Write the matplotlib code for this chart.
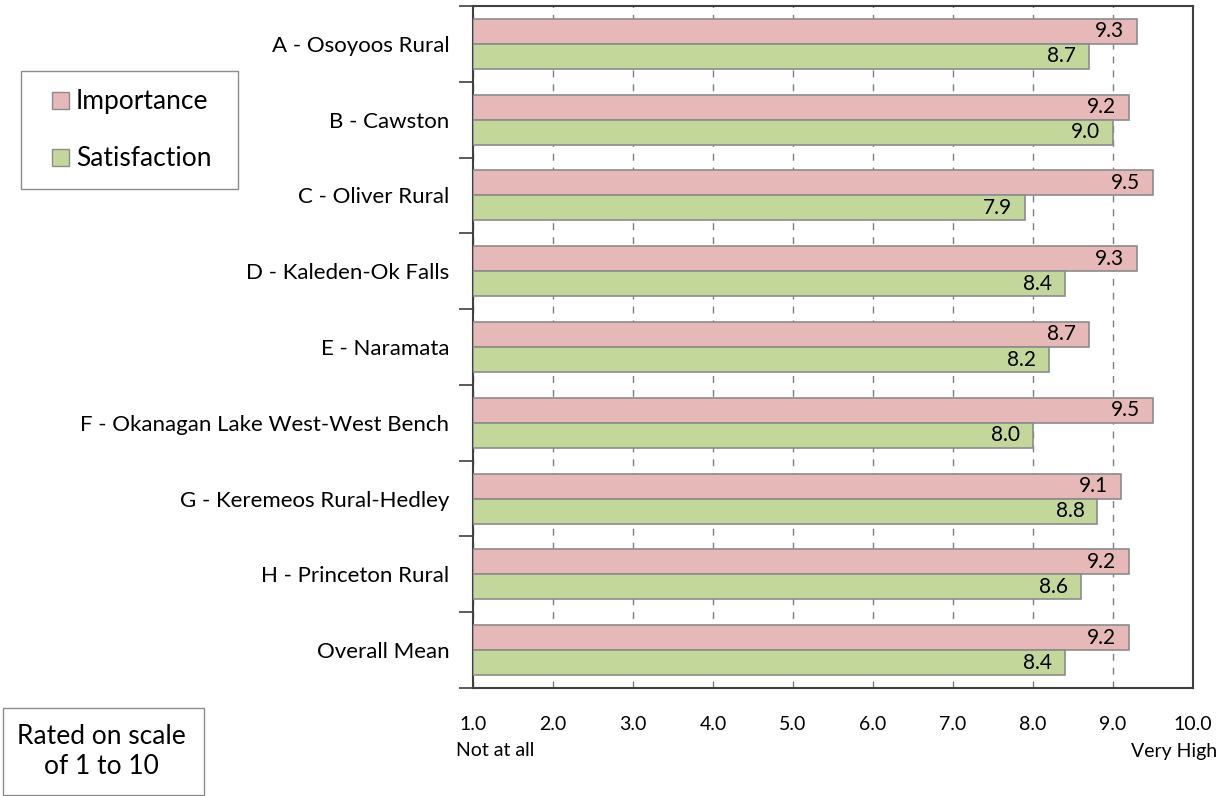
import matplotlib
matplotlib.use("Agg")
import matplotlib.pyplot as plt
import numpy as np
from matplotlib.patches import Rectangle

categories = ["A - Osoyoos Rural", "B - Cawston", "C - Oliver Rural", "D - Kaleden-Ok Falls",
              "E - Naramata", "F - Okanagan Lake West-West Bench", "G - Keremeos Rural-Hedley",
              "H - Princeton Rural", "Overall Mean"]
importance = [9.3, 9.2, 9.5, 9.3, 8.7, 9.5, 9.1, 9.2, 9.2]
satisfaction = [8.7, 9.0, 7.9, 8.4, 8.2, 8.0, 8.8, 8.6, 8.4]
xticks = [1, 2, 3, 4, 5, 6, 7, 8, 9, 10]

plt.rcParams['font.family'] = ['Lato', 'DejaVu Sans']
pink = "#E6B8B7"
green = "#C4D79B"
edge = "#8c8c8c"

W, H = 1229, 796
fig = plt.figure(figsize=(W/100, H/100), dpi=100)
ax = fig.add_axes([473/W, 1-688/H, (1193-473)/W, (688-6)/H])

n = len(categories)
y = np.arange(n)
bh = 0.33
ax.barh(y - bh/2, [v-1 for v in importance], left=1, height=bh, color=pink,
        edgecolor=edge, linewidth=1.2, zorder=3)
ax.barh(y + bh/2, [v-1 for v in satisfaction], left=1, height=bh, color=green,
        edgecolor=edge, linewidth=1.2, zorder=3)
for i in range(n):
    ax.annotate(f"{importance[i]:.1f}", (importance[i], y[i]-bh/2), xytext=(-9, 0),
                textcoords="offset points", ha="right", va="center", fontsize=15, zorder=4)
    ax.annotate(f"{satisfaction[i]:.1f}", (satisfaction[i], y[i]+bh/2), xytext=(-9, 0),
                textcoords="offset points", ha="right", va="center", fontsize=15, zorder=4)

ax.set_xlim(1, 10)
ax.set_ylim(n-0.5, -0.5)
ax.set_xticks(xticks)
ax.set_xticklabels([f"{t:.1f}" for t in xticks], fontsize=14)
ax.tick_params(axis='x', length=0, pad=20)
ax.xaxis.grid(True, linestyle=(0, (5, 5)), color="#7f7f7f", linewidth=1.0, zorder=0)
ax.set_axisbelow(True)

ax.set_yticks(np.arange(-0.5, n, 1.0))
ax.set_yticklabels([])
ax.set_yticks(y, minor=True)
ax.set_yticklabels(categories, minor=True, fontsize=16)
ax.tick_params(axis='y', which='major', length=10, width=1.2, color="#404040", direction='out')
ax.tick_params(axis='y', which='minor', length=0, pad=17)

for s in ax.spines.values():
    s.set_color("#404040")
    s.set_linewidth(1.5)

ax.text(-17/720, -(751-688)/682, "Not at all", transform=ax.transAxes, ha="left", va="center", fontsize=14)
ax.text(1+24/720, -(751-688)/682, "Very High", transform=ax.transAxes, ha="right", va="center", fontsize=14)

# Legend box
fig.patches.append(Rectangle((21/W, 1-189/H), 217/W, 118/H, transform=fig.transFigure,
                             facecolor="white", edgecolor="#8c8c8c", linewidth=1.0))
for (yy, col, lab) in [(101, pink, "Importance"), (158, green, "Satisfaction")]:
    fig.patches.append(Rectangle((52/W, 1-(yy+8)/H), 17/W, 17/H, transform=fig.transFigure,
                                 facecolor=col, edgecolor=edge, linewidth=1.0))
    fig.text(76/W, 1-yy/H, lab, ha="left", va="center", fontsize=19)

# Rated box
fig.patches.append(Rectangle((3/W, 1-795/H), 201/W, 87/H, transform=fig.transFigure,
                             facecolor="white", edgecolor="#8c8c8c", linewidth=1.0))
fig.text(101/W, 1-751/H, "Rated on scale\nof 1 to 10", ha="center", va="center",
         fontsize=19, linespacing=1.25)

fig.savefig("out.png", dpi=100)
